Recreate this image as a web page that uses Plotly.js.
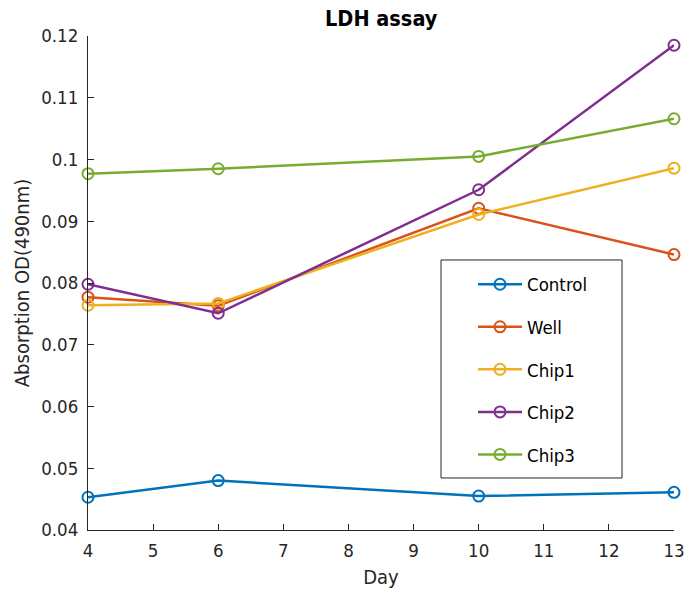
<!DOCTYPE html>
<html>
<head>
<meta charset="utf-8">
<script src="https://cdn.plot.ly/plotly-3.0.1.min.js"></script>
<style>html,body{margin:0;padding:0;background:#fff;}#chart{width:686px;height:591px;}</style>
</head>
<body>
<div id="chart"></div>
<script>
const days = [4, 6, 10, 13];
const seriesNames = ["Control", "Well", "Chip1", "Chip2", "Chip3"];
const control = [0.0453, 0.0480, 0.0455, 0.0461];
const well = [0.0777, 0.0763, 0.0921, 0.0846];
const chip1 = [0.0764, 0.0767, 0.0911, 0.0986];
const chip2 = [0.0798, 0.0751, 0.0951, 0.1185];
const chip3 = [0.0977, 0.0985, 0.1005, 0.1066];
const colors = ["#0072BD", "#D95319", "#EDB120", "#7E2F8E", "#77AC30"];
const xTicks = [4, 5, 6, 7, 8, 9, 10, 11, 12, 13];
const yTicks = [0.04, 0.05, 0.06, 0.07, 0.08, 0.09, 0.1, 0.11, 0.12];
const yTickText = ["0.04", "0.05", "0.06", "0.07", "0.08", "0.09", "0.1", "0.11", "0.12"];

const allSeries = [control, well, chip1, chip2, chip3];
const traces = allSeries.map((vals, i) => ({
  x: days, y: vals, name: seriesNames[i], type: "scatter", mode: "lines+markers",
  legendgroup: "g" + i,
  line: {color: colors[i], width: 2.5},
  marker: {symbol: "circle-open", size: 11, color: colors[i], line: {width: 2, color: colors[i]}},
  cliponaxis: false
}));

const FAM = "DejaVu Sans Condensed, DejaVu Sans, sans-serif";
const layout = {
  width: 686, height: 591,
  margin: {l: 88, r: 12, t: 36, b: 61},
  paper_bgcolor: "#fff", plot_bgcolor: "#fff",
  font: {family: FAM, size: 18, color: "#262626"},
  title: {text: "<b>LDH assay</b>", x: 0.5557, xanchor: "center", y: 0.969, yanchor: "middle", font: {family: FAM, size: 21.5, color: "#000"}},
  xaxis: {
    range: [4, 13], tickvals: xTicks, ticks: "inside", ticklen: 6, tickcolor: "#262626",
    showline: true, linecolor: "#262626", linewidth: 1, showgrid: false, zeroline: false,
    tickfont: {size: 18.5}, ticklabelstandoff: 4,
    title: {text: "Day", font: {size: 20}, standoff: 9}
  },
  yaxis: {
    range: [0.04, 0.12], tickvals: yTicks, ticktext: yTickText, ticks: "inside", ticklen: 6, tickcolor: "#262626",
    showline: true, linecolor: "#262626", linewidth: 1, showgrid: false, zeroline: false,
    tickfont: {size: 18.5}, ticklabelstandoff: 5,
    title: {text: "Absorption OD(490nm)", font: {size: 20}, standoff: 6}
  },
  shapes: [{
    type: "rect", xref: "paper", yref: "paper",
    x0: 0.6024, x1: 0.9113, y0: 0.1053, y1: 0.5466,
    line: {color: "#262626", width: 1}, fillcolor: "#fff", layer: "above"
  }],
  showlegend: true,
  legend: {
    x: 0.657, y: 0.535, xanchor: "left", yanchor: "top",
    borderwidth: 0, bgcolor: "rgba(0,0,0,0)",
    traceorder: "grouped", tracegroupgap: 15.5, itemwidth: 44,
    font: {family: FAM, size: 18.5, color: "#000"}
  }
};
Plotly.newPlot("chart", traces, layout, {displayModeBar: false, staticPlot: true});
</script>
</body>
</html>
